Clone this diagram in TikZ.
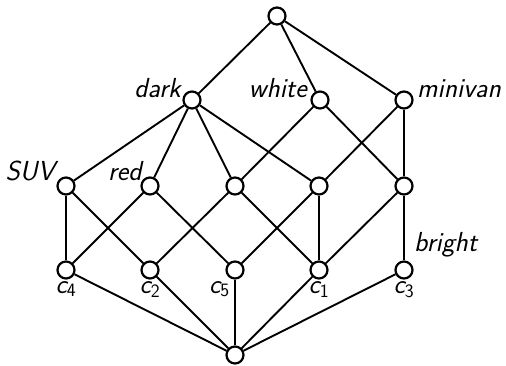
\documentclass[tikz,border=0pt]{standalone}
\usepackage{fontspec}
\begin{document}
\begin{tikzpicture}[x=1pt,y=-1pt,
  pt/.style={circle,draw,line width=2.2pt,fill=white,minimum size=17pt,inner sep=0pt},
  lbl/.style={inner sep=0pt,font=\fontsize{27.5}{32}\selectfont\sffamily\itshape},
  clbl/.style={inner sep=0pt,anchor=north,font=\fontsize{27}{32}\selectfont\sffamily},
  edge/.style={line width=1.9pt}]
\useasboundingbox (0,0) rectangle (506,365);
\node[pt] (top) at (277,16) {};
\node[pt] (dark) at (192,100) {};
\node[pt] (white) at (320,100) {};
\node[pt] (minivan) at (404,100) {};
\node[pt] (suv) at (66,186) {};
\node[pt] (red) at (150,186) {};
\node[pt] (m3) at (235,186) {};
\node[pt] (m4) at (319,186) {};
\node[pt] (m5) at (404,186) {};
\node[pt] (c4) at (66,270) {};
\node[pt] (c2) at (150,270) {};
\node[pt] (c5) at (235,270) {};
\node[pt] (c1) at (319,270) {};
\node[pt] (c3) at (404,270) {};
\node[pt] (bot) at (235,355) {};
\foreach \a/\b in {top/dark,top/white,top/minivan,
  dark/suv,dark/red,dark/m3,dark/m4,white/m3,white/m5,minivan/m4,minivan/m5,
  suv/c4,suv/c2,red/c4,red/c5,m3/c2,m3/c1,m4/c5,m4/c1,m5/c1,m5/c3,
  c4/bot,c2/bot,c5/bot,c1/bot,c3/bot}
  \draw[edge] (\a) -- (\b);
\node[lbl,anchor=base east] (ldark) at (181,97) {dark};
\node[lbl,anchor=base east] (lwhite) at (307,97) {white};
\node[lbl,anchor=base west] (lminivan) at (417,97) {minivan};
\node[lbl,anchor=base east] (lsuv) at (55,180) {SUV};
\node[lbl,anchor=base east] (lred) at (142,180) {red};
\node[lbl,anchor=base west] (lbright) at (414,251) {bright};
\node[clbl] (lc4) at (66,281) {\itshape c\textsubscript{\upshape 4}};
\node[clbl] (lc2) at (150,281) {\itshape c\textsubscript{\upshape 2}};
\node[clbl,anchor=north east] (lc5) at (230,281) {\itshape c\textsubscript{\upshape 5}};
\node[clbl] (lc1) at (319,281) {\itshape c\textsubscript{\upshape 1}};
\node[clbl] (lc3) at (404,281) {\itshape c\textsubscript{\upshape 3}};
\end{tikzpicture}
\end{document}
